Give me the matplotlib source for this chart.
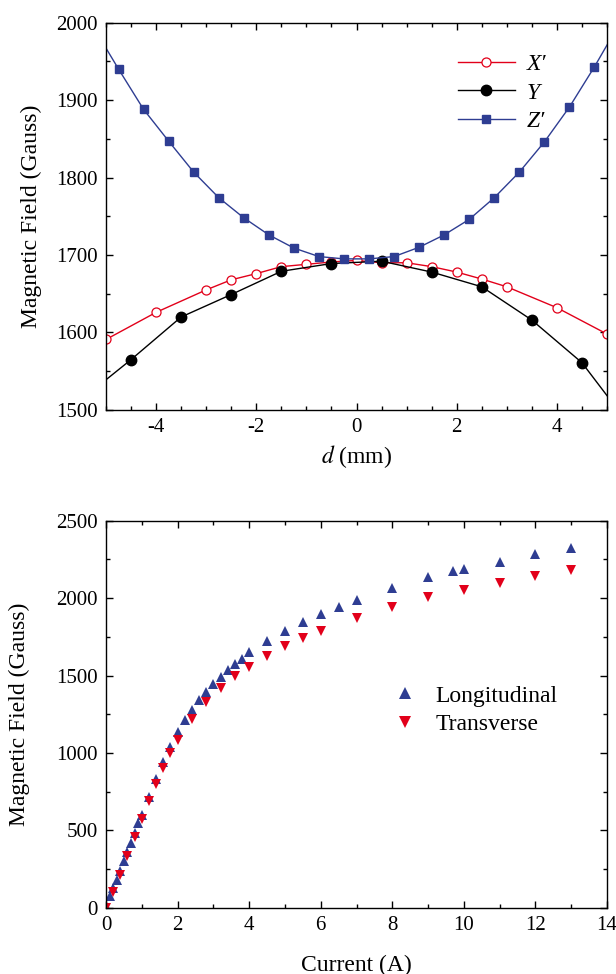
import numpy as np
import matplotlib
matplotlib.use('Agg')
import matplotlib.pyplot as plt
from matplotlib.ticker import MultipleLocator

plt.rcParams['font.family'] = ['Liberation Serif', 'DejaVu Serif']
plt.rcParams['mathtext.fontset'] = 'stix'
plt.rcParams['axes.unicode_minus'] = False

# --- top panel: field along the three axes vs offset d (mm) ---
xp_d = [-5, -4, -3, -2.5, -2, -1.5, -1, -0.5, 0, 0.5, 1, 1.5, 2, 2.5, 3, 4, 5]
xp_b = [1591, 1626, 1655, 1668, 1676, 1685, 1688, 1691, 1693, 1690, 1690,
        1685, 1678, 1669, 1659, 1632, 1598]

# first and last entries only continue the line to the frame (no marker)
y_d = [-5.5, -4.5, -3.5, -2.5, -1.5, -0.5, 0.5, 1.5, 2.5, 3.5, 4.5, 5.5]
y_b = [1513, 1565, 1620, 1649, 1679, 1689, 1692, 1678, 1659, 1616, 1561, 1476]

z_d = [-5.25, -4.75, -4.25, -3.75, -3.25, -2.75, -2.25, -1.75, -1.25, -0.75, -0.25,
       0.25, 0.75, 1.25, 1.75, 2.25, 2.75, 3.25, 3.75, 4.25, 4.75, 5.25]
z_b = [1994, 1940, 1888, 1847, 1807, 1774, 1748, 1726, 1709, 1698, 1695,
       1695, 1698, 1710, 1726, 1746, 1774, 1807, 1846, 1891, 1943, 1999]

# --- bottom panel: field vs coil current ---
lon_i = [0, 0.1, 0.2, 0.3, 0.4, 0.5, 0.6, 0.7, 0.8, 0.9, 1.0, 1.2, 1.4, 1.6, 1.8, 2.0,
         2.2, 2.4, 2.6, 2.8, 3.0, 3.2, 3.4, 3.6, 3.8, 4.0, 4.5, 5.0, 5.5, 6.0, 6.5,
         7.0, 8.0, 9.0, 9.7, 10.0, 11.0, 12.0, 13.0]
lon_b = [15, 75, 130, 183, 240, 301, 362, 420, 484, 548, 602, 716, 833, 944, 1036, 1133,
         1210, 1276, 1343, 1395, 1445, 1492, 1533, 1573, 1608, 1651, 1720, 1785, 1843,
         1896, 1945, 1986, 2066, 2133, 2175, 2186, 2234, 2285, 2324]

tr_i = [0, 0.2, 0.4, 0.6, 0.8, 1.0, 1.2, 1.4, 1.6, 1.8, 2.0, 2.4, 2.8, 3.2, 3.6, 4.0,
        4.5, 5.0, 5.5, 6.0, 7.0, 8.0, 9.0, 10.0, 11.0, 12.0, 13.0]
tr_b = [0, 100, 215, 338, 458, 576, 689, 800, 904, 1000, 1081, 1219, 1328, 1417, 1494,
        1558, 1627, 1688, 1741, 1789, 1870, 1941, 2004, 2054, 2095, 2144, 2184]

red = '#E2001A'
blue = '#2E3D92'

fig = plt.figure(figsize=(6.16, 9.74), dpi=100)
ax1 = fig.add_axes([0.1721, 0.5791, 0.8133, 0.3977])
ax2 = fig.add_axes([0.1721, 0.0678, 0.8133, 0.3977])

ax1.plot(xp_d, xp_b, '-o', color=red, lw=1.0, ms=6.5, mfc='white', mec=red,
         mew=0.9, label="X\u2032")
ax1.plot(y_d, y_b, '-o', color='black', lw=1.0, ms=7.5, markevery=slice(1, -1),
         label="Y")
ax1.plot(z_d, z_b, '-s', color=blue, lw=1.0, ms=5.2, markevery=slice(1, -1),
         label="Z\u2032")

ax1.set_xlim(-5, 5)
ax1.set_ylim(1500, 2000)
ax1.xaxis.set_major_locator(MultipleLocator(2))
ax1.xaxis.set_minor_locator(MultipleLocator(0.5))
ax1.yaxis.set_major_locator(MultipleLocator(100))
ax1.yaxis.set_minor_locator(MultipleLocator(50))
ax1.set_xlabel(r"$d$ (mm)", fontsize=17, labelpad=4)
ax1.set_ylabel('Magnetic Field (Gauss)', fontsize=17, labelpad=10)
ax1.legend(loc='upper left', bbox_to_anchor=(0.66, 0.975), frameon=False,
           prop={'size': 17, 'style': 'italic'}, handlelength=2.4,
           handletextpad=0.5, labelspacing=0.3)

ax2.plot(lon_i, lon_b, '^', color=blue, ms=7.5, mew=0, label='Longitudinal')
ax2.plot(tr_i, tr_b, 'v', color=red, ms=7.5, mew=0, label='Transverse')
ax2.set_xlim(0, 14)
ax2.set_ylim(0, 2500)
ax2.xaxis.set_major_locator(MultipleLocator(2))
ax2.xaxis.set_minor_locator(MultipleLocator(1))
ax2.yaxis.set_major_locator(MultipleLocator(500))
ax2.yaxis.set_minor_locator(MultipleLocator(250))
ax2.set_xlabel('Current (A)', fontsize=17, labelpad=14)
ax2.set_ylabel('Magnetic Field (Gauss)', fontsize=17, labelpad=19)
ax2.legend(loc='upper left', bbox_to_anchor=(0.53, 0.63), frameon=False,
           fontsize=17, handlelength=1.0, handletextpad=0.8, labelspacing=0.3,
           markerscale=1.1)

for ax in (ax1, ax2):
    for s in ax.spines.values():
        s.set_linewidth(1.0)
    ax.tick_params(which='both', direction='in', top=True, right=True,
                   labelsize=15, width=1.0)
    ax.tick_params(which='major', length=5, pad=6)
    ax.tick_params(which='minor', length=3)

fig.savefig('out.png', dpi=100)
